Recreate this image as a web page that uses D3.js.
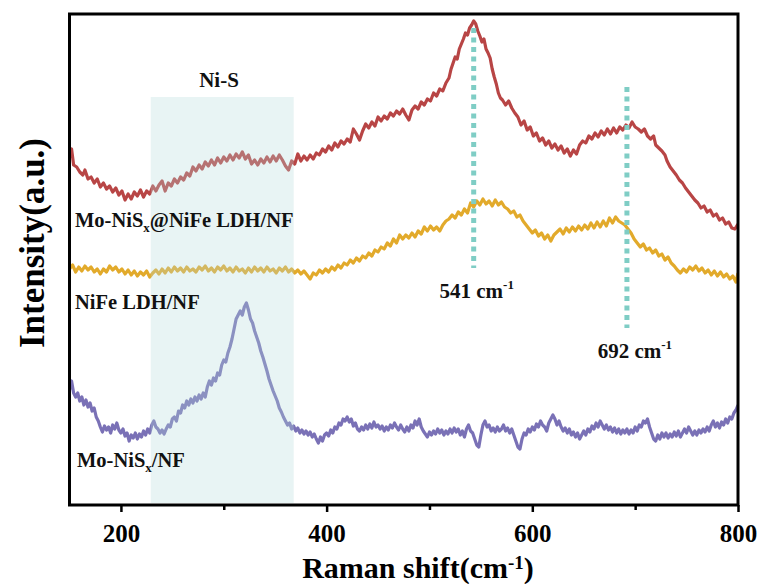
<!DOCTYPE html>
<html><head><meta charset="utf-8">
<script src="https://cdn.jsdelivr.net/npm/d3@7"></script>
<style>body{margin:0;background:#fff}</style>
</head><body><svg id="c" width="766" height="584"></svg>
<script>
// Raman shift (cm-1), intensity (a.u.)
const moNiSxNiFe = [[150,350],[152,356],[154,340],[157,338],[160,333],[163,330],[165,335],[168,326],[171,328],[174,322],[177,326],[180,318],[183,322],[186,316],[189,319],[192,313],[195,317],[198,310],[201,314],[204,305],[207,311],[210,306],[213,313],[216,309],[219,315],[222,308],[225,314],[228,311],[231,319],[234,314],[237,320],[240,324],[243,314],[246,322],[249,319],[252,326],[255,322],[258,328],[261,325],[264,332],[267,329],[270,338],[273,334],[276,340],[279,336],[282,343],[285,339],[288,345],[291,340],[294,347],[297,342],[300,348],[303,344],[306,350],[309,345],[312,351],[315,347],[318,353],[321,346],[324,350],[327,341],[330,345],[333,340],[336,346],[339,342],[342,348],[345,343],[348,349],[351,344],[354,350],[357,345],[360,339],[363,335],[366,344],[369,341],[372,351],[375,344],[378,349],[381,345],[384,350],[387,346],[390,352],[393,350],[396,356],[399,353],[402,359],[405,355],[408,362],[411,358],[414,364],[417,361],[420,366],[423,363],[426,376],[429,371],[432,365],[435,374],[438,381],[441,377],[444,383],[447,379],[450,388],[453,384],[456,389],[459,386],[462,392],[465,389],[468,394],[471,391],[474,396],[477,390],[480,385],[483,395],[486,399],[489,396],[492,403],[495,400],[498,406],[501,404],[504,412],[507,409],[510,416],[513,414],[516,422],[519,427],[521,436],[523,442],[525,448],[527,446],[529,456],[531,461],[533,466],[535,472],[537,470],[539,477],[541,480],[543,484],[545,481],[547,474],[549,469],[551,463],[553,466],[555,456],[557,452],[559,447],[561,436],[563,428],[565,421],[567,412],[569,407],[571,405],[574,400],[577,404],[580,397],[583,392],[586,388],[589,380],[592,384],[595,375],[598,378],[601,369],[604,372],[607,364],[610,367],[613,360],[616,364],[619,357],[622,361],[625,355],[628,359],[631,352],[634,356],[637,349],[640,355],[643,351],[646,360],[649,364],[652,362],[655,369],[658,366],[661,372],[664,368],[667,374],[670,370],[673,376],[676,371],[679,377],[682,372],[685,378],[688,375],[691,380],[694,377],[697,383],[700,378],[703,376],[706,373],[709,376],[712,369],[715,366],[718,369],[720,360],[723,357],[726,354],[729,350],[731,344],[734,338],[737,334],[740,330],[743,325],[746,322],[749,317],[752,313],[755,309],[758,305],[761,302],[764,297],[767,299],[770,293],[773,295],[776,289],[779,291],[782,285],[785,287],[788,281],[791,283],[794,277],[797,276],[800,281]];

const niFeLDH = [[150,236],[153,240],[156,233],[159,238],[162,234],[165,239],[168,235],[171,238],[174,233],[177,236],[180,231],[183,236],[186,233],[189,239],[192,235],[195,238],[198,233],[201,236],[204,231],[207,235],[210,230],[213,234],[216,229],[219,233],[222,230],[225,234],[228,228],[231,232],[234,235],[237,231],[240,236],[243,232],[246,237],[249,233],[252,238],[255,234],[258,237],[261,233],[264,238],[267,234],[270,236],[273,233],[276,238],[279,235],[282,239],[285,234],[288,237],[291,233],[294,238],[297,235],[300,239],[303,234],[306,237],[309,233],[312,238],[315,234],[318,236],[321,232],[324,237],[327,233],[330,238],[333,234],[336,237],[339,233],[342,238],[345,234],[348,236],[351,232],[354,237],[357,234],[360,238],[363,233],[366,236],[369,232],[372,235],[375,231],[378,234],[381,230],[384,226],[387,232],[390,230],[393,235],[396,232],[399,236],[402,233],[405,238],[408,235],[411,240],[414,237],[417,242],[420,240],[423,245],[426,242],[429,247],[432,244],[435,249],[438,247],[441,252],[444,249],[447,255],[450,253],[453,258],[456,256],[459,262],[462,259],[465,266],[468,262],[471,270],[474,266],[477,270],[480,267],[483,272],[486,268],[489,274],[492,271],[495,278],[498,274],[501,279],[504,275],[507,278],[510,274],[513,280],[516,284],[519,286],[522,290],[525,287],[528,293],[531,290],[534,296],[537,292],[540,302],[543,298],[546,304],[549,300],[552,306],[555,301],[558,304],[561,299],[564,305],[567,300],[570,303],[573,298],[576,296],[579,292],[582,294],[585,288],[588,290],[591,284],[594,280],[597,276],[600,272],[603,275],[606,269],[609,272],[612,266],[615,270],[618,264],[621,270],[624,273],[627,276],[630,271],[633,277],[636,273],[639,278],[642,274],[645,279],[648,275],[651,280],[654,276],[657,282],[660,277],[663,283],[666,278],[669,284],[672,279],[675,287],[678,282],[681,288],[684,284],[687,282],[690,280],[693,276],[696,272],[699,266],[702,262],[705,258],[708,261],[711,255],[714,257],[717,252],[720,255],[723,249],[726,251],[729,245],[732,248],[735,242],[738,239],[741,235],[744,232],[747,236],[750,233],[753,238],[756,235],[759,239],[762,234],[765,237],[768,232],[771,235],[774,230],[777,234],[780,229],[783,233],[786,228],[789,231],[792,226],[795,229],[798,223],[800,232]];

const moNiSxNF = [[150,115],[152,124],[154,112],[156,108],[158,112],[160,104],[162,108],[164,100],[166,105],[168,98],[170,102],[172,94],[174,97],[176,88],[178,84],[180,78],[182,73],[184,79],[186,75],[188,78],[190,72],[192,80],[194,76],[196,82],[198,75],[200,72],[202,76],[204,69],[206,72],[208,64],[210,70],[212,67],[214,72],[216,66],[218,71],[220,68],[222,74],[224,70],[226,76],[228,72],[230,80],[232,84],[234,78],[236,76],[238,72],[240,75],[242,71],[244,76],[246,80],[248,78],[250,86],[252,88],[254,84],[256,94],[258,92],[260,100],[262,97],[264,104],[266,100],[268,106],[270,102],[272,108],[274,104],[276,110],[278,106],[280,112],[282,108],[284,118],[286,124],[288,120],[290,127],[292,124],[294,132],[296,130],[298,140],[300,145],[302,143],[304,152],[306,158],[308,166],[310,176],[312,186],[314,190],[316,194],[318,190],[320,198],[322,202],[324,195],[326,186],[328,182],[330,174],[332,168],[334,162],[336,154],[338,148],[340,141],[342,134],[344,126],[346,120],[348,114],[350,109],[352,104],[354,97],[356,93],[358,88],[360,84],[362,80],[364,82],[366,76],[368,79],[370,74],[372,77],[374,72],[376,75],[378,71],[380,74],[382,70],[384,73],[386,68],[388,71],[390,66],[392,62],[394,68],[396,64],[398,70],[400,72],[402,69],[404,75],[406,72],[408,78],[410,76],[412,82],[414,80],[416,86],[418,84],[420,88],[422,83],[424,86],[426,79],[428,82],[430,76],[432,74],[434,78],[436,75],[438,80],[440,76],[442,81],[444,77],[446,83],[448,78],[450,80],[452,76],[454,79],[456,74],[458,78],[460,75],[462,80],[464,77],[466,82],[468,78],[470,75],[472,80],[474,76],[476,73],[478,78],[480,74],[482,80],[484,77],[486,84],[488,80],[490,86],[492,78],[494,74],[496,71],[498,68],[500,73],[502,70],[504,74],[506,71],[508,76],[510,72],[512,75],[514,70],[516,74],[518,71],[520,76],[522,72],[524,77],[526,73],[528,76],[530,70],[532,74],[534,68],[536,76],[538,80],[540,74],[542,72],[544,66],[546,60],[548,58],[550,70],[552,80],[554,84],[556,78],[558,80],[560,74],[562,77],[564,73],[566,78],[568,74],[570,76],[572,80],[574,74],[576,77],[578,72],[580,76],[582,70],[584,64],[586,58],[588,56],[590,66],[592,72],[594,70],[596,76],[598,73],[600,78],[602,75],[604,81],[606,78],[608,84],[610,80],[612,78],[614,74],[616,82],[618,86],[620,90],[622,86],[624,80],[626,84],[628,78],[630,74],[632,77],[634,72],[636,76],[638,70],[640,73],[642,68],[644,72],[646,66],[648,70],[650,74],[652,70],[654,76],[656,73],[658,79],[660,76],[662,82],[664,78],[666,84],[668,80],[670,76],[672,80],[674,75],[676,78],[678,73],[680,77],[682,72],[684,76],[686,71],[688,75],[690,72],[692,76],[694,71],[696,75],[698,72],[700,78],[702,74],[704,80],[706,78],[708,84],[710,82],[712,86],[714,78],[716,72],[718,66],[720,64],[722,70],[724,66],[726,72],[728,68],[730,72],[732,67],[734,71],[736,68],[738,73],[740,69],[742,74],[744,68],[746,72],[748,76],[750,72],[752,78],[754,74],[756,70],[758,74],[760,70],[762,75],[764,72],[766,76],[768,73],[770,78],[772,74],[774,80],[776,84],[778,78],[780,82],[782,77],[784,83],[786,80],[788,86],[790,82],[792,88],[794,86],[796,92],[798,95],[800,100]];

const xTicks = [200, 400, 600, 800];
const xMinorTicks = [300, 500, 700];
const niSBand = [229, 368];
const peakShifts = [543, 692];
const peakLabels = ["541", "692"];
const seriesNames = ["Mo-NiSx@NiFe LDH/NF", "NiFe LDH/NF", "Mo-NiSx/NF"];

const W = 766, H = 584;
const m = {l: 69.5, t: 14, r: 28, b: 79};
const svg = d3.select("#c");
const x = d3.scaleLinear().domain([150, 800]).range([m.l, W - m.r]);
const y = d3.scaleLinear().domain([0, 491]).range([H - m.b, m.t]);
const font = "'Liberation Serif','Times New Roman',serif";

const line = d3.line().x(d => x(d[0])).y(d => y(d[1])).curve(d3.curveLinear);
const colors = ["#b84545", "#e2aa2b", "#7a71b6"];
const data = [moNiSxNiFe, niFeLDH, moNiSxNF];

const plot = svg.append("g");
plot.append("defs").append("clipPath").attr("id", "clip")
  .append("rect").attr("x", m.l).attr("y", m.t).attr("width", W - m.l - m.r).attr("height", H - m.t - m.b);

const gl = plot.append("g").attr("clip-path", "url(#clip)");
data.forEach((d, i) => {
  gl.append("path").datum(d).attr("d", line).attr("fill", "none")
    .attr("stroke", colors[i]).attr("stroke-width", 3.2).attr("stroke-linejoin", "round");
});

// Ni-S band overlay
plot.append("rect").attr("x", x(niSBand[0])).attr("width", x(niSBand[1]) - x(niSBand[0]))
  .attr("y", y(408)).attr("height", y(0) - y(408) - 2)
  .attr("fill", "rgb(178,218,218)").attr("opacity", 0.3);

// peak markers
const peakTop = [477, 418], peakBot = [237, 177];
peakShifts.forEach((p, i) => {
  plot.append("line").attr("x1", x(p)).attr("x2", x(p)).attr("y1", y(peakTop[i])).attr("y2", y(peakBot[i]))
    .attr("stroke", "#7fcdc5").attr("stroke-width", 5).attr("stroke-dasharray", "5,4.5");
});

// axes
const xAxis = d3.axisBottom(x).tickValues(xTicks).tickSize(7).tickFormat(d3.format("d"));
const gx = svg.append("g").attr("transform", `translate(0,${H - m.b})`).call(xAxis);
gx.select(".domain").remove();
gx.selectAll(".tick line").attr("stroke", "#000").attr("stroke-width", 2.5);
gx.selectAll(".tick text").attr("font-family", font).attr("font-weight", "bold")
  .attr("font-size", 25).attr("fill", "#000").attr("y", 37).attr("dy", 0);
const gxm = svg.append("g").attr("transform", `translate(0,${H - m.b})`)
  .call(d3.axisBottom(x).tickValues(xMinorTicks).tickSize(5).tickFormat(""));
gxm.select(".domain").remove();
gxm.selectAll(".tick line").attr("stroke", "#000").attr("stroke-width", 2.5);

// frame
svg.append("rect").attr("x", m.l).attr("y", m.t).attr("width", W - m.l - m.r).attr("height", H - m.t - m.b)
  .attr("fill", "none").attr("stroke", "#000").attr("stroke-width", 3);

// titles
const xt = svg.append("text").attr("x", 418).attr("y", 578).attr("text-anchor", "middle")
  .attr("font-family", font).attr("font-weight", "bold").attr("font-size", 30);
xt.append("tspan").text("Raman shift(cm");
xt.append("tspan").text("-1").attr("font-size", 19).attr("dy", -9);
xt.append("tspan").text(")").attr("dy", 9);

svg.append("text").attr("transform", "translate(44,243) rotate(-90)").attr("text-anchor", "middle")
  .attr("font-family", font).attr("font-weight", "bold").attr("font-size", 35).text("Intensity(a.u.)");

const txt = (xp, yp, size) => svg.append("text").attr("x", xp).attr("y", yp)
  .attr("font-family", font).attr("font-weight", "bold").attr("font-size", size).attr("fill", "#111");

txt(219, 87, 21).attr("text-anchor", "middle").text("Ni-S");

function subLabel(xp, yp, parts) {
  const t = txt(xp, yp, 20.5);
  t.append("tspan").text(parts[0]);
  t.append("tspan").text("x").attr("font-size", 13).attr("dy", 5);
  t.append("tspan").text(parts[1]).attr("dy", -5);
}
subLabel(75, 227, ["Mo-NiS", "@NiFe LDH/NF"]);
txt(75, 309, 20.5).text(seriesNames[1]);
subLabel(77, 467, ["Mo-NiS", "/NF"]);

function cmLabel(xp, yp, val) {
  const t = txt(xp, yp, 21).attr("text-anchor", "middle");
  t.append("tspan").text(val + " cm");
  t.append("tspan").text("-1").attr("font-size", 13).attr("dy", -9);
}
cmLabel(x(peakShifts[0]) + 3, 298, peakLabels[0]);
cmLabel(x(peakShifts[1]) + 8, 358, peakLabels[1]);
</script></body></html>
